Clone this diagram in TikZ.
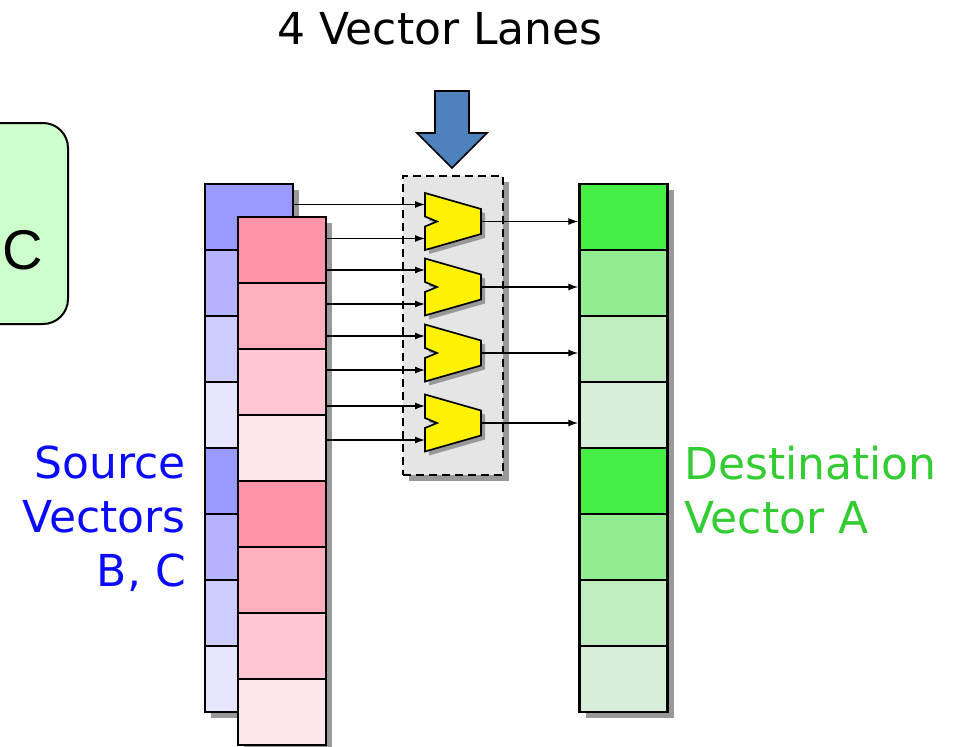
\documentclass[tikz,border=0pt]{standalone}
\usepackage{fontspec}
\setmainfont{DejaVu Sans}
\newfontfamily\unitfont{Liberation Sans}
\usetikzlibrary{arrows.meta,shadows}

\definecolor{srcbA}{HTML}{9999FF}
\definecolor{srcbB}{HTML}{B3B3FF}
\definecolor{srcbC}{HTML}{CCCCFF}
\definecolor{srcbD}{HTML}{E6E6FF}
\definecolor{srccA}{HTML}{FF94A8}
\definecolor{srccB}{HTML}{FFAEBC}
\definecolor{srccC}{HTML}{FFC8D2}
\definecolor{srccD}{HTML}{FFE6EA}
\definecolor{dstA}{HTML}{44EE44}
\definecolor{dstB}{HTML}{90EE90}
\definecolor{dstC}{HTML}{C0EEC0}
\definecolor{dstD}{HTML}{D8EED8}
\definecolor{lanegray}{HTML}{E5E5E5}
\definecolor{laneblue}{HTML}{4F81BD}
\definecolor{unitgreen}{HTML}{CCFFCC}
\definecolor{srctext}{HTML}{0A0AFF}
\definecolor{dsttext}{HTML}{33CC33}

\tikzset{
  shade box/.style={drop shadow={shadow xshift=6pt, shadow yshift=-6pt, fill=black!40, opacity=1}},
  cell/.style={draw, line width=2.4pt, minimum width=88pt, minimum height=66pt, inner sep=0pt, shade box},
  wire/.style={line width=1.3pt, -{Latex[length=10pt,width=7pt]}},
  bigtext/.style={font=\fontsize{44}{54}\selectfont, inner sep=0pt},
  alu/.pic={
    \draw[fill=yellow, line width=1.7pt, drop shadow={shadow xshift=4pt, shadow yshift=-4pt, fill=black!40, opacity=1}]
      (-28,-28.5) -- (28,-12.5) -- (28,12.5) -- (-28,28.5) -- (-28,5) -- (-16,0) -- (-28,-5) -- cycle;
    \coordinate (-in1) at (-28,-17);
    \coordinate (-in2) at (-28,17);
    \coordinate (-out) at (28,0);
  }
}

\begin{document}
\begin{tikzpicture}[x=1pt,y=-1pt]
  \path[use as bounding box, clip] (0,0) rectangle (964,747);

  % unit box at the left edge
  \node[draw, line width=2pt, fill=unitgreen, rounded corners=25pt, minimum width=150pt, minimum height=201pt] (unit) at (-7,223.5) {};
  \node[font=\unitfont\fontsize{56}{60}\selectfont, anchor=base] (unitC) at (22.5,269) {C};

  \node[bigtext, anchor=base] (title) at (440,44) {4 Vector Lanes};

  % source vector B
  \node[cell, fill=srcbA] (b1) at (249,217) {};
  \node[cell, fill=srcbB] (b2) at (249,283) {};
  \node[cell, fill=srcbC] (b3) at (249,349) {};
  \node[cell, fill=srcbD] (b4) at (249,415) {};
  \node[cell, fill=srcbA] (b5) at (249,481) {};
  \node[cell, fill=srcbB] (b6) at (249,547) {};
  \node[cell, fill=srcbC] (b7) at (249,613) {};
  \node[cell, fill=srcbD] (b8) at (249,679) {};

  % source vector C
  \node[cell, fill=srccA] (c1) at (282,250) {};
  \node[cell, fill=srccB] (c2) at (282,316) {};
  \node[cell, fill=srccC] (c3) at (282,382) {};
  \node[cell, fill=srccD] (c4) at (282,448) {};
  \node[cell, fill=srccA] (c5) at (282,514) {};
  \node[cell, fill=srccB] (c6) at (282,580) {};
  \node[cell, fill=srccC] (c7) at (282,646) {};
  \node[cell, fill=srccD] (c8) at (282,712) {};

  % destination vector A
  \node[cell, fill=dstA] (a1) at (623.5,217) {};
  \node[cell, fill=dstB] (a2) at (623.5,283) {};
  \node[cell, fill=dstC] (a3) at (623.5,349) {};
  \node[cell, fill=dstD] (a4) at (623.5,415) {};
  \node[cell, fill=dstA] (a5) at (623.5,481) {};
  \node[cell, fill=dstB] (a6) at (623.5,547) {};
  \node[cell, fill=dstC] (a7) at (623.5,613) {};
  \node[cell, fill=dstD] (a8) at (623.5,679) {};

  % lanes
  \node[draw, line width=1.6pt, dash pattern=on 8pt off 5pt, fill=lanegray, minimum width=100pt, minimum height=299pt, shade box] (lanes) at (453,325.5) {};
  \draw[line width=1.7pt, fill=laneblue] (435,91) -- (469,91) -- (469,133) -- (487,133) -- (452,168) -- (417,133) -- (435,133) -- cycle;

  \pic (alu1) at (453,221.5) {alu};
  \pic (alu2) at (453,287) {alu};
  \pic (alu3) at (453,353) {alu};
  \pic (alu4) at (453,423) {alu};

  \draw[wire] (b1.east |- alu1-in1) -- (alu1-in1);
  \draw[wire] (c1.east |- alu1-in2) -- (alu1-in2);
  \draw[wire] (c1.east |- alu2-in1) -- (alu2-in1);
  \draw[wire] (c2.east |- alu2-in2) -- (alu2-in2);
  \draw[wire] (c2.east |- alu3-in1) -- (alu3-in1);
  \draw[wire] (c3.east |- alu3-in2) -- (alu3-in2);
  \draw[wire] (c3.east |- alu4-in1) -- (alu4-in1);
  \draw[wire] (c4.east |- alu4-in2) -- (alu4-in2);

  \draw[wire] (alu1-out) -- (a1.west |- alu1-out);
  \draw[wire] (alu2-out) -- (a2.west |- alu2-out);
  \draw[wire] (alu3-out) -- (a3.west |- alu3-out);
  \draw[wire] (alu4-out) -- (a4.west |- alu4-out);

  \node[bigtext, text=srctext, align=right, anchor=north east] (srclabel) at (186,446) {Source\\Vectors\\B, C};
  \node[bigtext, text=dsttext, align=left, anchor=north west] (dstlabel) at (684,446) {Destination\\Vector A};
\end{tikzpicture}
\end{document}
